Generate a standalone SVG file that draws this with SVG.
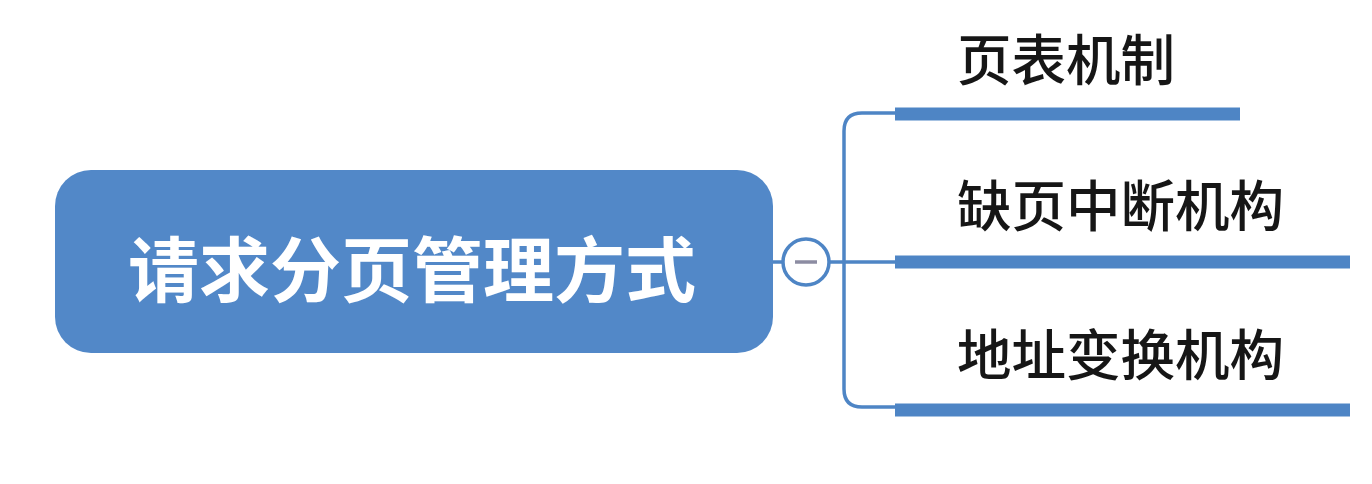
<svg xmlns="http://www.w3.org/2000/svg" width="1372" height="484" viewBox="0 0 1372 484">
<style>
.conn{fill:none;stroke:#4e85c5;stroke-width:3.5}
.bar{fill:none;stroke:#4e85c5;stroke-width:13}
.sub{font-family:"Noto Sans CJK SC","Noto Sans",sans-serif;font-size:54.5px;fill:#161616;font-weight:500}
.root{font-family:"Noto Sans CJK SC","Noto Sans",sans-serif;font-size:71px;fill:#ffffff;font-weight:bold}
</style>
<rect width="1372" height="484" fill="#ffffff"/>
<g id="connectors">
<line class="conn" x1="773" y1="262" x2="782" y2="262"/>
<path class="conn" d="M830 262 H897 M897 113 H862 Q844 113 844 131 V389 Q844 407 862 407 H897"/>
</g>
<g id="root">
<rect x="55" y="170" width="718" height="183" rx="36" ry="36" fill="#5288c8"/>
<text class="root" x="412" y="296" text-anchor="middle">请求分页管理方式</text>
</g>
<g id="collapse">
<circle cx="806" cy="262" r="23" fill="#ffffff" stroke="#4e85c5" stroke-width="3.5"/>
<line x1="795" y1="262" x2="817" y2="262" stroke="#8c8ca2" stroke-width="3.5"/>
</g>
<g id="node1">
<line class="bar" x1="895" y1="114" x2="1240" y2="114"/>
<text class="sub" x="957" y="80">页表机制</text>
</g>
<g id="node2">
<line class="bar" x1="895" y1="262" x2="1350" y2="262"/>
<text class="sub" x="957" y="226">缺页中断机构</text>
</g>
<g id="node3">
<line class="bar" x1="895" y1="410" x2="1350" y2="410"/>
<text class="sub" x="957" y="375">地址变换机构</text>
</g>
</svg>
